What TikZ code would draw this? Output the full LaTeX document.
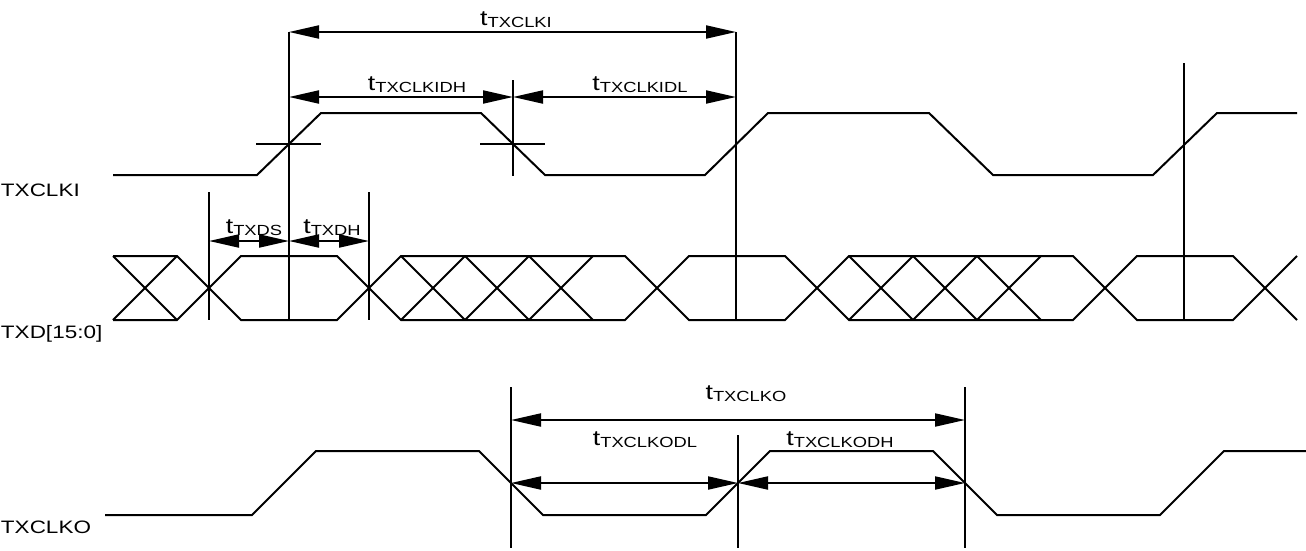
\documentclass[tikz,border=0pt]{standalone}
\usepackage{fontspec}
\setmainfont{Liberation Sans}
\newfontfamily\widefont[FakeStretch=1.25]{Liberation Sans}
\usetikzlibrary{arrows.meta}
\newcommand\tsub[1]{{\widefont\fontsize{16}{16}\selectfont t}\raisebox{-1.5pt}{\widefont\fontsize{11}{11}\selectfont #1}}
\begin{document}
\begin{tikzpicture}[x=0.75pt,y=-0.75pt, line width=1.5pt,
  dim/.style={line width=1.5pt,{Triangle[length=22.5pt,width=9.75pt]}-{Triangle[length=22.5pt,width=9.75pt]}},
  siglbl/.style={anchor=base west,inner sep=0pt,font=\widefont\fontsize{13.5}{15}\selectfont},
  tlbl/.style={anchor=base,inner sep=0pt}]
\useasboundingbox (0,0) rectangle (1306,550);
% signal labels
\node[siglbl] (lclki) at (0,196) {TXCLKI};
\node[siglbl] (ltxd) at (0,338) {TXD[15:0]};
\node[siglbl] (lclko) at (0,533) {TXCLKO};
% TXCLKI waveform
\draw (113,175) -- (257,175) -- (321,113) -- (481,113) -- (545,175) -- (705,175) -- (768,113) -- (929,113) -- (993,175) -- (1153,175) -- (1217,113) -- (1297,113);
% crosshairs
\draw (256,144) -- (321,144);
\draw (480,144) -- (545,144);
% TXD waveform
\draw (113,256) -- (177,256) -- (241,320) -- (337,320) -- (401,256) -- (625,256) -- (689,320) -- (785,320) -- (849,256) -- (1073,256) -- (1137,320) -- (1233,320) -- (1297,256);
\draw (113,320) -- (177,320) -- (241,256) -- (337,256) -- (401,320) -- (625,320) -- (689,256) -- (785,256) -- (849,320) -- (1073,320) -- (1137,256) -- (1233,256) -- (1297,320);
\foreach \c in {145,433,497,561,881,945,1009}{
  \draw (\c-32,256) -- (\c+32,320);
  \draw (\c-32,320) -- (\c+32,256);
}
% TXCLKO waveform
\draw (105,515) -- (252,515) -- (316,451) -- (479,451) -- (543,515) -- (706,515) -- (770,451) -- (933,451) -- (997,515) -- (1160,515) -- (1224,451) -- (1306,451);
% reference coordinates
\coordinate (a1) at (289,32);  \coordinate (a2) at (736,32);
\coordinate (b1) at (289,97);  \coordinate (b2) at (513,97); \coordinate (b3) at (736,97);
\coordinate (c1) at (209,241); \coordinate (c2) at (289,241); \coordinate (c3) at (369,241);
\coordinate (d1) at (511,420); \coordinate (d2) at (965,420);
\coordinate (e1) at (511,483); \coordinate (e2) at (738,483); \coordinate (e3) at (965,483);
% vertical lines
\draw (289,32) -- (289,320);
\draw (736,32) -- (736,320);
\draw (513,80) -- (513,176);
\draw (209,192) -- (209,320);
\draw (369,192) -- (369,320);
\draw (1184,63) -- (1184,320);
\draw (511,387) -- (511,548);
\draw (738,435) -- (738,548);
\draw (965,387) -- (965,548);
% dimension arrows
\draw[dim] (a1) -- (a2);
\draw[dim] (b1) -- (b2);
\draw[dim] (b2) -- (b3);
\draw[dim] (c1) -- (c2);
\draw[dim] (c2) -- (c3);
\draw[dim] (d1) -- (d2);
\draw[dim] (e1) -- (e2);
\draw[dim] (e2) -- (e3);
% timing labels
\node[tlbl] (tclki) at (516,25) {\tsub{TXCLKI}};
\node[tlbl] (tclkidh) at (417,90) {\tsub{TXCLKIDH}};
\node[tlbl] (tclkidl) at (640,90) {\tsub{TXCLKIDL}};
\node[tlbl] (ttxds) at (254,233) {\tsub{TXDS}};
\node[tlbl] (ttxdh) at (332,233) {\tsub{TXDH}};
\node[tlbl] (tclko) at (746,399) {\tsub{TXCLKO}};
\node[tlbl] (tclkodl) at (645,445) {\tsub{TXCLKODL}};
\node[tlbl] (tclkodh) at (840,445) {\tsub{TXCLKODH}};
\end{tikzpicture}
\end{document}
